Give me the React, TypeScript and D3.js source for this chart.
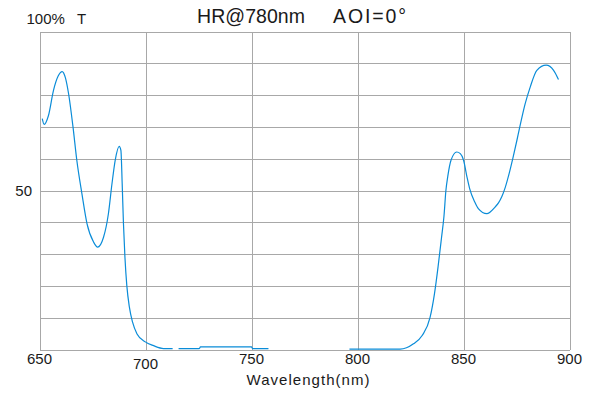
import React, { useEffect, useRef } from "react";
import * as d3 from "d3";

// transmittance curve (nm, %T); null = not drawn
const wavelengths = [
  651.3, 652.2, 654.2, 656.6, 658.8, 660.7, 662.2, 663.7, 665.8, 667.6, 670,
  672.4, 675.5, 677.4, 680.2, 682.5, 684.2, 685.7, 687.6, 688.4, 689, 689.6,
  690.3, 691.2, 692.4, 693.9, 696, 699.9, 703.8, 708.5, 712.8, 714, 715.6,
  725.4, 725.9, 750, 750.5, 758, 777, 796.2, 820.1, 826.4, 830.5, 834.2,
  836.3, 838, 839.6, 840.8, 841.7, 842.6, 844.1, 846.8, 848.5, 850, 851.6,
  852.9, 855.3, 857, 861, 864.9, 866.5, 868.1, 869.7, 871.7, 873.3, 875.2,
  876.4, 879.1, 881.5, 884.6, 889, 892.5, 894.8,
];
const transmittance = [
  72.6, 70.8, 73.5, 81.5, 86, 87.4, 85.5, 80.5, 70, 59.5, 49, 39.6, 33.8,
  32.2, 35.3, 42.7, 52.2, 59.5, 63.9, 62.6, 52.2, 39.6, 29, 20, 13.3, 8.6,
  4.9, 2.4, 1.2, 0.3, 0.3, null, 0.3, 0.3, 0.8, 0.8, 0.3, 0.3, null, 0.12,
  0.12, 1.8, 4.4, 10, 17.5, 26, 35, 42, 50, 54.5, 59.5, 62.1, 61.6, 59.6,
  54.4, 50.6, 46.4, 44.3, 42.7, 44.8, 46.1, 48.1, 51, 55.8, 60.2, 65.8,
  69.5, 77.3, 82.6, 87.8, 89.4, 87.8, 84.9,
];

const xTicks = [650, 700, 750, 800, 850, 900];
const yGrid = [0, 10, 20, 30, 40, 50, 60, 70, 80, 90, 100];
const yLabels = [50];

const width = 595,
  height = 397;
const plot = { left: 39.5, right: 569.5, top: 31.5, bottom: 349.5 };
const gridColor = "#a8a8a8";
const lineColor = "#0a8cd8";
const textColor = "#1a1a1a";
const font = "'Liberation Sans', Arial, sans-serif";

export default function App(): JSX.Element {
  const svgRef = useRef<SVGSVGElement>(null);

  useEffect(() => {
    if (!svgRef.current) return;
    const svg = d3.select(svgRef.current);
    svg.selectAll("*").remove();

    const x = d3
      .scaleLinear()
      .domain([650, 900])
      .range([plot.left, plot.right]);
    const y = d3
      .scaleLinear()
      .domain([0, 100])
      .range([plot.bottom, plot.top]);

    const grid = svg.append("g").attr("shape-rendering", "crispEdges");

    grid
      .selectAll("line.h")
      .data(yGrid)
      .join("line")
      .attr("class", "h")
      .attr("x1", plot.left)
      .attr("x2", plot.right)
      .attr("y1", (d) => Math.round(y(d)) + 0.5)
      .attr("y2", (d) => Math.round(y(d)) + 0.5)
      .attr("stroke", gridColor)
      .attr("stroke-width", 1);

    grid
      .selectAll("line.v")
      .data(xTicks)
      .join("line")
      .attr("class", "v")
      .attr("x1", (d) => Math.round(x(d)) + 0.5)
      .attr("x2", (d) => Math.round(x(d)) + 0.5)
      .attr("y1", plot.top)
      .attr("y2", plot.bottom)
      .attr("stroke", gridColor)
      .attr("stroke-width", 1);

    const points = wavelengths.map((w, i) => ({ w, t: transmittance[i] }));

    const line = d3
      .line<{ w: number; t: number | null }>()
      .defined((d) => d.t !== null)
      .x((d) => x(d.w))
      .y((d) => y(d.t as number))
      .curve(d3.curveMonotoneX);

    svg
      .append("path")
      .datum(points)
      .attr("d", line as any)
      .attr("fill", "none")
      .attr("stroke", lineColor)
      .attr("stroke-width", 1.2);

    // x tick labels (700 sits a little lower in the original)
    svg
      .append("g")
      .selectAll("text")
      .data(xTicks)
      .join("text")
      .attr("x", (d) => x(d))
      .attr("y", (d) => (d === 700 ? 369 : 363.5))
      .attr("text-anchor", "middle")
      .attr("font-family", font)
      .attr("font-size", 15)
      .attr("fill", textColor)
      .text((d) => d);

    svg
      .append("g")
      .selectAll("text")
      .data(yLabels)
      .join("text")
      .attr("x", 32)
      .attr("y", (d) => y(d) + 5.5)
      .attr("text-anchor", "end")
      .attr("font-family", font)
      .attr("font-size", 15)
      .attr("fill", textColor)
      .text((d) => d);

    const label = (
      tx: number,
      ty: number,
      s: string,
      size: number,
      len?: number
    ) => {
      const t = svg
        .append("text")
        .attr("x", tx)
        .attr("y", ty)
        .attr("font-family", font)
        .attr("font-size", size)
        .attr("fill", textColor)
        .text(s);
      if (len) t.attr("textLength", len).attr("lengthAdjust", "spacing");
    };

    label(26.5, 24, "100%", 15);
    label(77, 24, "T", 15);
    label(197, 22.5, "HR@780nm", 19.5, 108);
    label(333, 22.5, "AOI=0°", 19.5, 73);
    label(246.5, 385, "Wavelength(nm)", 15, 123);
  }, []);

  return (
    <div style={{ position: "fixed", left: 0, top: 0, background: "#fff" }}>
      <svg ref={svgRef} width={width} height={height} />
    </div>
  );
}
